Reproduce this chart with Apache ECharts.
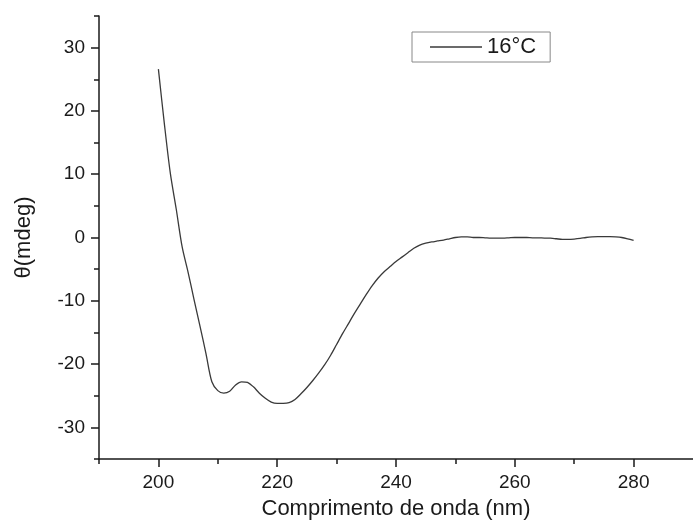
<!DOCTYPE html>
<html>
<head>
<meta charset="utf-8">
<script src="https://cdn.jsdelivr.net/npm/echarts@6/dist/echarts.min.js"></script>
<style>
  html, body { margin: 0; padding: 0; background: #fff; }
  #chart { width: 693px; height: 529px; }
</style>
</head>
<body>
<div id="chart"></div>
<script>
// comprimento de onda (nm), 200..280
const wavelengths = [];
for (let w = 200; w <= 280; w++) wavelengths.push(w);

// elipticidade a 16°C (mdeg)
const theta16 = [
  26.6, 18.0, 10.2, 4.5, -1.5, -5.5, -9.8, -14.0, -18.3, -22.8,
  -24.2, -24.6, -24.3, -23.3, -22.8, -22.9, -23.6, -24.6, -25.4, -26.0,
  -26.2, -26.2, -26.1, -25.6, -24.7, -23.7, -22.6, -21.4, -20.1, -18.6,
  -16.9, -15.2, -13.6, -12.0, -10.5, -9.0, -7.6, -6.4, -5.4, -4.6,
  -3.8, -3.1, -2.4, -1.7, -1.2, -0.9, -0.7, -0.55, -0.4, -0.2,
  0.0, 0.1, 0.1, 0.0, 0.0, -0.05, -0.1, -0.1, -0.1, -0.05,
  0.0, 0.0, 0.0, -0.05, -0.05, -0.1, -0.1, -0.2, -0.3, -0.3,
  -0.25, -0.15, 0.0, 0.1, 0.15, 0.15, 0.15, 0.1, 0.0, -0.2,
  -0.45
];

const xMajorTicks = [200, 220, 240, 260, 280];
const xMinorTicks = [190, 210, 230, 250, 270];
const yMajorTicks = [-30, -20, -10, 0, 10, 20, 30];
const yMinorTicks = [-35, -25, -15, -5, 5, 15, 25, 35];

const seriesName = '16°C';

const chart = echarts.init(document.getElementById('chart'));

const font = 'Liberation Sans, Arial, sans-serif';
const ink = '#1a1a1a';

const option = {
  backgroundColor: '#fff',
  animation: false,
  textStyle: { fontFamily: font },
  grid: { left: 99, top: 16, right: -4, bottom: 70, containLabel: false },
  legend: {
    data: [{ name: seriesName, icon: 'rect' }],
    left: 412,
    top: 32,
    orient: 'horizontal',
    padding: [4, 14, 4, 18],
    borderColor: '#888',
    borderWidth: 1,
    itemWidth: 52,
    itemHeight: 1.4,
    itemStyle: { color: '#3a3a3a' },
    textStyle: { fontSize: 22, color: ink, fontFamily: font }
  },
  xAxis: [
    {
      type: 'value',
      min: 190,
      max: 290,
      position: 'bottom',
      name: 'Comprimento de onda (nm)',
      nameLocation: 'middle',
      nameGap: 39,
      nameTextStyle: { fontSize: 22, color: ink, fontFamily: font },
      splitLine: { show: false },
      axisLine: { show: true, onZero: false, lineStyle: { color: ink, width: 1.5 } },
      axisTick: { show: true, customValues: xMajorTicks, length: 8, lineStyle: { color: ink, width: 1.5 } },
      axisLabel: { customValues: xMajorTicks, fontSize: 19, color: ink, margin: 14, fontFamily: font }
    },
    {
      type: 'value',
      min: 190,
      max: 290,
      position: 'bottom',
      splitLine: { show: false },
      axisLine: { show: false, onZero: false },
      axisTick: { show: true, customValues: xMinorTicks, length: 5, lineStyle: { color: ink, width: 1.5 } },
      axisLabel: { show: false }
    }
  ],
  yAxis: [
    {
      type: 'value',
      min: -35,
      max: 35,
      position: 'left',
      name: 'θ(mdeg)',
      nameLocation: 'middle',
      nameGap: 64,
      nameTextStyle: { fontSize: 22, color: ink, fontFamily: font },
      splitLine: { show: false },
      axisLine: { show: true, onZero: false, lineStyle: { color: ink, width: 1.5 } },
      axisTick: { show: true, customValues: yMajorTicks, length: 8, lineStyle: { color: ink, width: 1.5 } },
      axisLabel: { customValues: yMajorTicks, fontSize: 19, color: ink, margin: 14, fontFamily: font }
    },
    {
      type: 'value',
      min: -35,
      max: 35,
      position: 'left',
      splitLine: { show: false },
      axisLine: { show: false, onZero: false },
      axisTick: { show: true, customValues: yMinorTicks, length: 5, lineStyle: { color: ink, width: 1.5 } },
      axisLabel: { show: false }
    }
  ],
  series: [
    {
      name: seriesName,
      type: 'line',
      xAxisIndex: 0,
      yAxisIndex: 0,
      data: wavelengths.map((w, i) => [w, theta16[i]]),
      showSymbol: false,
      symbol: 'none',
      smooth: 0.3,
      lineStyle: { color: '#3a3a3a', width: 1.3 },
      itemStyle: { color: '#3a3a3a' }
    }
  ]
};

chart.setOption(option);
</script>
</body>
</html>
